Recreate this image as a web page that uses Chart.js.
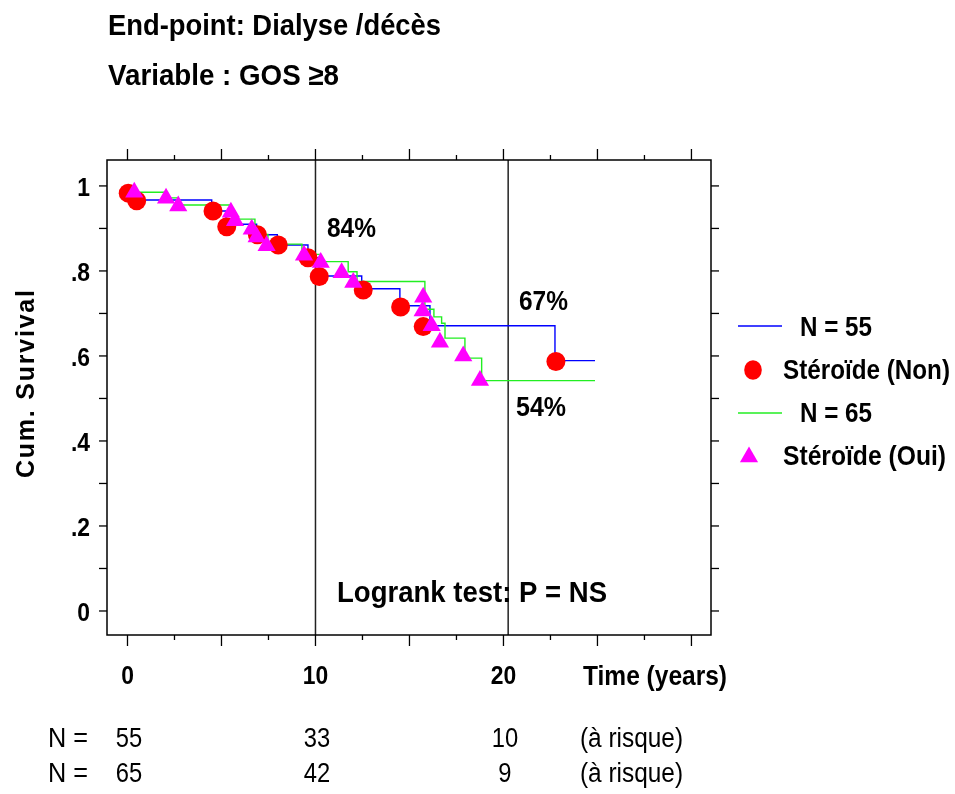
<!DOCTYPE html>
<html>
<head>
<meta charset="utf-8">
<script src="https://cdn.jsdelivr.net/npm/chart.js@4.4.1/dist/chart.umd.min.js"></script>
<style>
  html, body { margin: 0; padding: 0; background: #ffffff; }
  #wrap { width: 955px; height: 794px; position: relative; }
</style>
</head>
<body>
<div id="wrap"><canvas id="c" width="955" height="794"></canvas></div>
<script>
// ---------------- DATA ----------------
const titleLines = ['End-point: Dialyse /décès', 'Variable : GOS \u22658'];
const yAxisTitle = 'Cum. Survival';
const xAxisTitle = 'Time (years)';
const xTickValues = [0, 10, 20];
const xTickLabels = ['0', '10', '20'];
const yTickValues = [0, 0.2, 0.4, 0.6, 0.8, 1];
const yTickLabels = ['0', '.2', '.4', '.6', '.8', '1'];
const refLineTimes = [10, 20.25];

// Kaplan-Meier step curve, Stéroïde (Non), N = 55
const nonStepTimes = [0, 0.08, 0.5, 4.48, 5.24, 6.87, 7.97, 9.6, 10.19, 12.46, 14.49, 16.09, 22.74, 24.87];
const nonStepSurv  = [1, 0.983, 0.967, 0.941, 0.91, 0.885, 0.861, 0.831, 0.788, 0.758, 0.718, 0.671, 0.589, 0.589];
// Kaplan-Meier step curve, Stéroïde (Oui), N = 65
const ouiStepTimes = [0, 0.35, 2.05, 2.69, 5.45, 5.72, 6.78, 6.94, 7.47, 9.28, 10.24, 11.74, 12.21, 15.82, 16.3, 16.71, 16.89, 17.95, 18.84, 24.87];
const ouiStepSurv  = [1, 0.985, 0.972, 0.955, 0.94, 0.922, 0.904, 0.886, 0.863, 0.839, 0.822, 0.798, 0.775, 0.71, 0.692, 0.677, 0.642, 0.595, 0.542, 0.542];

// markers
const nonMarkTimes = [0.04, 0.49, 4.55, 5.28, 6.91, 8.02, 9.6, 10.2, 12.54, 14.53, 15.73, 22.79];
const nonMarkSurv  = [0.983, 0.965, 0.941, 0.904, 0.885, 0.861, 0.831, 0.787, 0.755, 0.715, 0.669, 0.587];
const ouiMarkTimes = [0.36, 2.05, 2.7, 5.5, 5.72, 6.61, 6.87, 7.4, 9.39, 10.28, 11.39, 12.01, 15.73, 15.7, 16.18, 16.62, 17.86, 18.75];
const ouiMarkSurv  = [0.985, 0.971, 0.953, 0.938, 0.918, 0.898, 0.88, 0.859, 0.837, 0.82, 0.796, 0.773, 0.738, 0.706, 0.671, 0.632, 0.6, 0.542];

const legendLabels = ['N = 55', 'St\u00e9ro\u00efde (Non)', 'N = 65', 'St\u00e9ro\u00efde (Oui)'];
const annotTexts = ['84%', '67%', '54%'];
const logrankText = 'Logrank test: P = NS';

const riskTimes = [0, 10, 20];
const riskNon = [55, 33, 10];
const riskOui = [65, 42, 9];
const riskPrefix = 'N =';
const riskSuffix = '(\u00e0 risque)';

// ---------------- STYLE / LAYOUT ----------------
const FONT = '"Liberation Sans", Arial, Helvetica, sans-serif';
const BLUE = '#0000ff', GREEN = '#22ee22', RED = '#ff0000', MAGENTA = '#ff00ff';

function toXY(ts, ss) { return ts.map((t, i) => ({ x: t, y: ss[i] })); }

// draw text; targetW > 0 fits to width, targetW < 0 means horizontal scale factor -targetW
function txt(ctx, s, x, y, size, bold, targetW, align) {
  ctx.save();
  ctx.font = (bold ? 'bold ' : '') + size + 'px ' + FONT;
  ctx.textBaseline = 'middle';
  ctx.textAlign = 'left';
  const nat = ctx.measureText(s).width;
  const sx = targetW > 0 ? targetW / nat : (targetW < 0 ? -targetW : 1);
  const w = nat * sx;
  const left = align === 'center' ? x - w / 2 : (align === 'right' ? x - w : x);
  ctx.translate(left, y);
  ctx.scale(sx, 1);
  ctx.fillStyle = '#000';
  ctx.fillText(s, 0, 0);
  ctx.restore();
}

function seg(ctx, x1, y1, x2, y2) {
  ctx.beginPath(); ctx.moveTo(x1, y1); ctx.lineTo(x2, y2); ctx.stroke();
}

const framePlugin = {
  id: 'frame',
  beforeDatasetsDraw(chart) {
    const ctx = chart.ctx, xs = chart.scales.x, a = chart.chartArea;
    ctx.save();
    ctx.strokeStyle = '#222';
    ctx.lineWidth = 1.5;
    refLineTimes.forEach(t => {
      const px = xs.getPixelForValue(t);
      seg(ctx, px, a.top, px, a.bottom);
    });
    ctx.restore();
  },
  afterDraw(chart) {
    const ctx = chart.ctx, xs = chart.scales.x, ys = chart.scales.y, a = chart.chartArea;
    ctx.save();
    ctx.strokeStyle = '#000';
    ctx.lineWidth = 1.5;
    ctx.strokeRect(a.left, a.top, a.right - a.left, a.bottom - a.top);
    ctx.lineWidth = 1.3;
    for (let k = 0; k <= 12; k++) {
      const px = xs.getPixelForValue(k * 2.5);
      const L = (k % 2 === 0) ? 11 : 5;
      seg(ctx, px, a.top, px, a.top - L);
      seg(ctx, px, a.bottom, px, a.bottom + L);
    }
    for (let k = 0; k <= 10; k++) {
      const py = ys.getPixelForValue(k / 10);
      seg(ctx, a.left - 8, py, a.left, py);
      seg(ctx, a.right, py, a.right + 8, py);
    }
    ctx.restore();

    // tick labels
    yTickValues.forEach((v, i) => txt(ctx, yTickLabels[i], 90, ys.getPixelForValue(v) + 3, 26, true, -0.88, 'right'));
    xTickValues.forEach((v, i) => txt(ctx, xTickLabels[i], xs.getPixelForValue(v), 677, 26, true, -0.88, 'center'));
    txt(ctx, xAxisTitle, 583, 678, 27, true, 144, 'left');

    // titles
    txt(ctx, titleLines[0], 108, 27, 30, true, 333, 'left');
    txt(ctx, titleLines[1], 108, 77, 30, true, 231, 'left');

    // y axis title (rotated, letter-spaced)
    ctx.save();
    ctx.translate(27, 384);
    ctx.rotate(-Math.PI / 2);
    ctx.font = 'bold 25px ' + FONT;
    const nat = ctx.measureText(yAxisTitle).width;
    const sp = Math.max(0, (188 - nat) / (yAxisTitle.length - 1));
    ctx.letterSpacing = sp.toFixed(2) + 'px';
    ctx.textBaseline = 'middle';
    ctx.textAlign = 'left';
    ctx.fillStyle = '#000';
    ctx.fillText(yAxisTitle, -94, 0);
    ctx.restore();

    // annotations
    txt(ctx, annotTexts[0], 327, 229, 28, true, 49, 'left');
    txt(ctx, annotTexts[1], 519, 302, 28, true, 49, 'left');
    txt(ctx, annotTexts[2], 516, 408, 28, true, 50, 'left');
    txt(ctx, logrankText, 337, 594, 29, true, 270, 'left');

    // legend
    ctx.save();
    ctx.lineWidth = 1.3;
    ctx.strokeStyle = BLUE; seg(ctx, 738, 326, 782, 326);
    ctx.strokeStyle = GREEN; seg(ctx, 738, 413, 782, 413);
    ctx.fillStyle = RED;
    ctx.beginPath(); ctx.ellipse(753, 370, 8.8, 9.8, 0, 0, Math.PI * 2); ctx.fill();
    ctx.fillStyle = MAGENTA;
    const r = 10.5, cx = 749, cy = 457;
    ctx.beginPath();
    ctx.moveTo(cx, cy - r);
    ctx.lineTo(cx + r * Math.sin(Math.PI / 3), cy + r / 2);
    ctx.lineTo(cx - r * Math.sin(Math.PI / 3), cy + r / 2);
    ctx.closePath(); ctx.fill();
    ctx.restore();
    txt(ctx, legendLabels[0], 800, 329, 27, true, 72, 'left');
    txt(ctx, legendLabels[1], 783, 372, 27, true, 167, 'left');
    txt(ctx, legendLabels[2], 800, 415, 27, true, 72, 'left');
    txt(ctx, legendLabels[3], 783, 458, 27, true, 163, 'left');

    // risk table
    [riskNon, riskOui].forEach((row, j) => {
      const yy = 740 + j * 35;
      txt(ctx, riskPrefix, 48, yy, 27, false, 40, 'left');
      row.forEach((n, i) => txt(ctx, String(n), xs.getPixelForValue(riskTimes[i]) + 1.5, yy, 27, false, -0.88, 'center'));
      txt(ctx, riskSuffix, 580, yy, 27, false, 103, 'left');
    });
  }
};

new Chart(document.getElementById('c'), {
  type: 'scatter',
  data: {
    datasets: [
      { label: legendLabels[3], data: toXY(ouiMarkTimes, ouiMarkSurv), pointStyle: 'triangle',
        pointRadius: 10.5, backgroundColor: MAGENTA, borderColor: MAGENTA, borderWidth: 0, showLine: false, order: 0 },
      { label: legendLabels[1], data: toXY(nonMarkTimes, nonMarkSurv), pointStyle: 'circle',
        pointRadius: 9.5, backgroundColor: RED, borderColor: RED, borderWidth: 0, showLine: false, order: 1 },
      { label: legendLabels[2], type: 'line', data: toXY(ouiStepTimes, ouiStepSurv), stepped: 'before',
        borderColor: GREEN, borderWidth: 1.4, pointRadius: 0, fill: false, order: 2 },
      { label: legendLabels[0], type: 'line', data: toXY(nonStepTimes, nonStepSurv), stepped: 'before',
        borderColor: BLUE, borderWidth: 1.4, pointRadius: 0, fill: false, order: 3 }
    ]
  },
  options: {
    responsive: false,
    animation: false,
    events: [],
    layout: { padding: { left: 107, top: 160, right: 244, bottom: 159 } },
    scales: {
      x: { type: 'linear', min: -1.09, max: 31.04, display: false },
      y: { type: 'linear', min: -0.0565, max: 1.061, display: false }
    },
    plugins: { legend: { display: false }, tooltip: { enabled: false }, title: { display: false } }
  },
  plugins: [framePlugin]
});
</script>
</body>
</html>
